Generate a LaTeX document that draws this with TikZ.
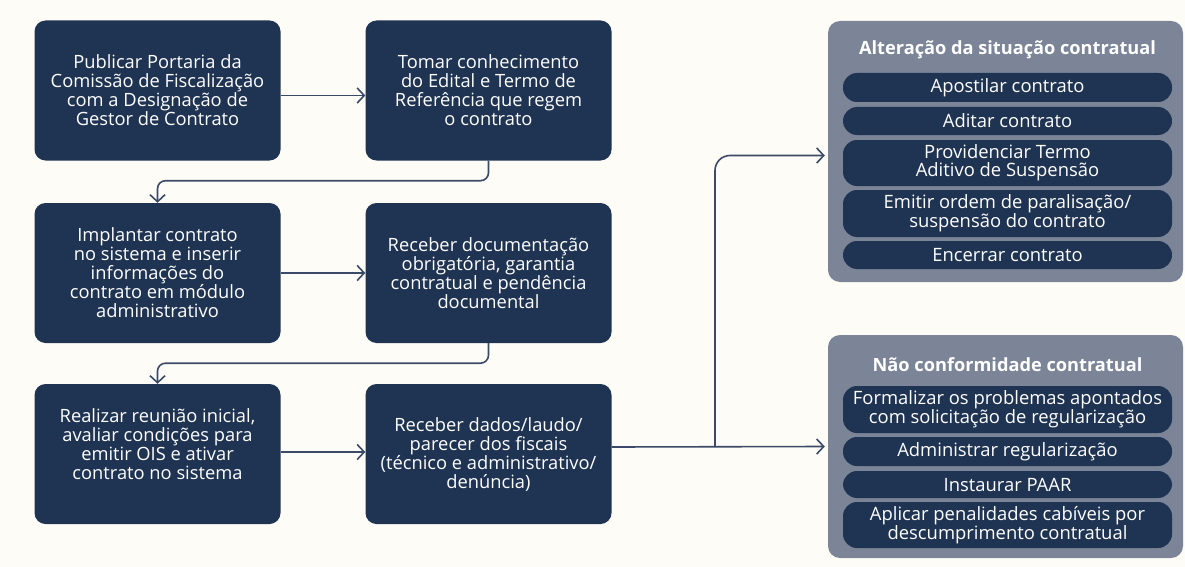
\documentclass[tikz,border=0pt]{standalone}
\usepackage{fontspec}
\setmainfont{Open Sans}
\usetikzlibrary{arrows.meta}
\definecolor{fundo}{RGB}{253,252,246}
\definecolor{azul}{RGB}{31,51,82}
\definecolor{cinza}{RGB}{123,133,151}
\definecolor{linha}{RGB}{58,74,104}
\tikzset{
	etapa/.style={fill=azul,rounded corners=11pt,text=white,align=center,
		minimum width=246pt,minimum height=140pt,inner sep=0pt,
		font=\fontsize{18.3}{19}\selectfont},
	grupo/.style={fill=cinza,rounded corners=12pt,minimum width=355pt,inner sep=0pt},
	titulo/.style={text=white,font=\bfseries\fontsize{18.2}{20}\selectfont},
	acao/.style={fill=azul,rounded corners=14pt,text=white,align=center,
		minimum width=329pt,inner sep=0pt,font=\fontsize{18.4}{18}\selectfont},
	liga/.style={draw=linha,line width=1.6pt,-{Straight Barb[length=7pt,width=15pt]}},
}
\newcommand{\Acao}[4]{%
	\node[acao,minimum height=#3pt] (#1) at (1007.5,#2) {#4};%
}

\begin{document}
\begin{tikzpicture}[x=1pt,y=-1pt]
	
	% fundo (fixa as margens)
	\fill[fundo] (0,0) rectangle (1185,567);
	
	% --- etapas (coluna A e coluna B) ---
	\node[etapa] (publicar) at (157.5,90.5)
	{Publicar Portaria da\\Comissão de Fiscalização\\com a Designação de\\Gestor de Contrato};
	\node[etapa] (tomar) at (488.5,90.5)
	{Tomar conhecimento\\do Edital e Termo de\\Referência que regem\\o contrato};
	
	\node[etapa] (implantar) at (157.5,273)
	{Implantar contrato\\no sistema e inserir\\informações do\\contrato em módulo\\administrativo};
	\node[etapa] (receberdoc) at (488.5,273)
	{Receber documentação\\obrigatória, garantia\\contratual e pendência\\documental};
	
	\node[etapa] (reuniao) at (157.5,454)
	{Realizar reunião inicial,\\avaliar condições para\\emitir OIS e ativar\\contrato no sistema\\ \mbox{}};
	\node[etapa] (receberdados) at (488.5,454)
	{Receber dados/laudo/\\parecer dos fiscais\\(técnico e administrativo/\\denúncia)};
	
	% --- grupos ---
	\node[grupo,minimum height=261pt] (alteracao) at (1005.5,151.5) {};
	\node[titulo] (tituloalt) at (1007.5,50) {Alteração da situação contratual};
	\Acao{apostilar}{87.5}{29}{Apostilar contrato}
	\Acao{aditar}{121}{28}{Aditar contrato}
	\Acao{providenciar}{163}{46}{Providenciar Termo\\Aditivo de Suspensão}
	\Acao{emitir}{213.5}{47}{Emitir ordem de paralisação/\\suspensão do contrato}
	\Acao{encerrar}{255}{28}{Encerrar contrato}
	
	\node[grupo,minimum height=223pt] (naoconf) at (1005.5,446.5) {};
	\node[titulo] (titulonao) at (1007.5,365) {Não conformidade contratual};
	\Acao{formalizar}{409.5}{47}{Formalizar os problemas apontados\\com solicitação de regularização}
	\Acao{administrar}{451.5}{29}{Administrar regularização}
	\Acao{instaurar}{484.5}{27}{Instaurar PAAR}
	\Acao{aplicar}{525}{46}{Aplicar penalidades cabíveis por\\descumprimento contratual}
	
	% --- ligações ---
	\draw[liga] ([yshift=-5pt]publicar.east) -- ([yshift=-5pt]tomar.west);
	\draw[liga] (implantar.east) -- (receberdoc.west);
	\draw[liga] ([yshift=2pt]reuniao.east) -- ([yshift=2pt]receberdados.west);
	
	\draw[liga,rounded corners=8pt] (tomar.south) -- ++(0,20) -| (implantar.north);
	\draw[liga,rounded corners=8pt] (receberdoc.south) -- ++(0,20) -| (reuniao.north);
	
	\coordinate (ramo) at (715,447);
	\draw[liga] ([yshift=7pt]receberdados.east) -- ([xshift=-3pt]naoconf.west);
	\draw[liga,rounded corners=15pt] (ramo) |- ([xshift=-3pt,yshift=-4pt]alteracao.west);
	
\end{tikzpicture}
\end{document}
